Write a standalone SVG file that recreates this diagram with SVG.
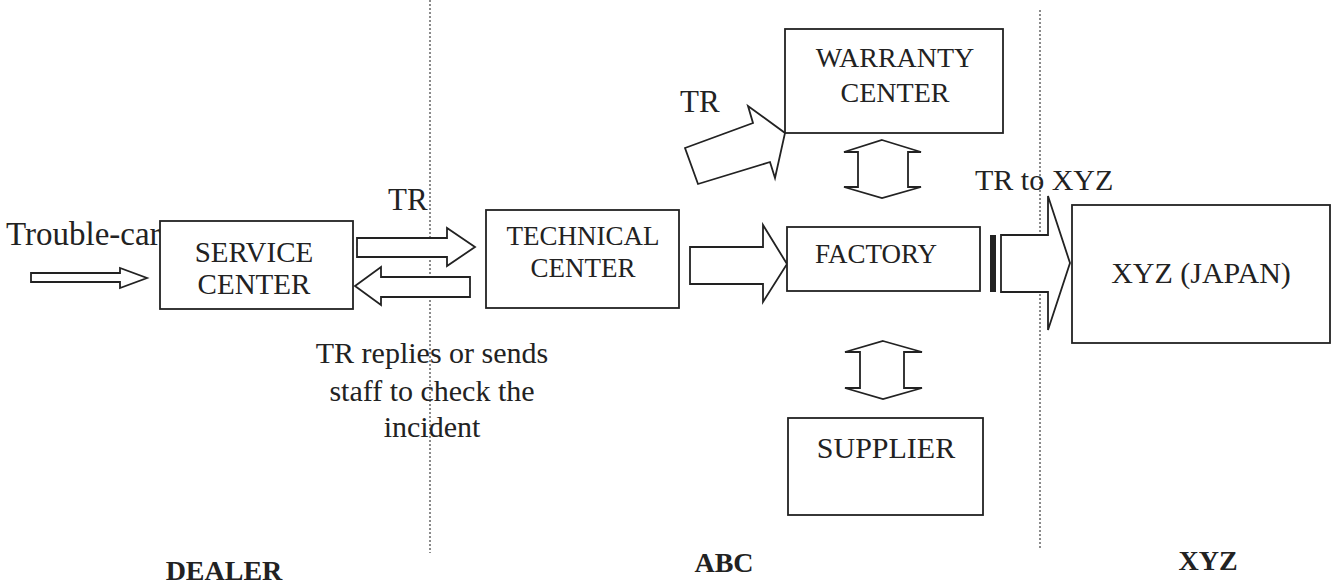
<svg xmlns="http://www.w3.org/2000/svg" width="1335" height="584" viewBox="0 0 1335 584">
<style>
text{font-family:"Liberation Serif","Times New Roman",serif;fill:#222}
.box{fill:#fff;stroke:#222;stroke-width:1.8}
.arr{fill:#fff;stroke:#222;stroke-width:1.8;stroke-linejoin:miter}
.div{stroke:#666;stroke-width:1.5;stroke-dasharray:2 2;fill:none}
.lab{font-weight:bold;font-size:28px}
</style>
<rect width="1335" height="584" fill="#fff"/>
<g id="dividers">
<line class="div" x1="430" y1="0" x2="430" y2="553"/>
<line class="div" x1="1040" y1="10" x2="1040" y2="549"/>
</g>
<text x="6" y="245" font-size="33">Trouble-car</text>
<text x="388" y="210" font-size="31">TR</text>
<text x="680" y="112" font-size="31">TR</text>
<text x="975" y="190" font-size="30">TR to XYZ</text>
<text x="432" y="363" font-size="30" text-anchor="middle">TR replies or sends</text>
<text x="432" y="401" font-size="30" text-anchor="middle">staff to check the</text>
<text x="432" y="437" font-size="30" text-anchor="middle">incident</text>
<g id="connectors">
<polygon class="arr" points="31,273 120,273 120,268 147,278 120,288 120,282 31,282"/>
<polygon class="arr" points="357,238 447,238 447,228 475,247 447,266 447,257 357,257"/>
<polygon class="arr" points="470,277 381,277 381,267 355,286 381,305 381,297 470,297"/>
<polygon class="arr" points="690,247 763,247 763,225 787,264 763,302 763,284 690,284"/>
<polygon class="arr" points="685,148 753,123 748,106 785,133 775,178 770,162 698,184"/>
<polygon class="arr" points="882,140 921,152 908,152 908,187 921,187 882,198 844,187 858,187 858,152 844,152"/>
<polygon class="arr" points="883,341 922,352 904,352 904,388 922,388 883,399 845,388 860,388 860,352 845,352"/>
<rect x="990" y="235" width="6" height="57" fill="#222"/>
<polygon class="arr" points="1001,235 1048,235 1048,196 1070,263 1048,330 1048,292 1001,292"/>
</g>
<g id="service-center">
<rect class="box" x="160" y="221" width="193" height="88"/>
<text x="254" y="262" font-size="29" text-anchor="middle">SERVICE</text>
<text x="254" y="294" font-size="29" text-anchor="middle">CENTER</text>
</g>
<g id="technical-center">
<rect class="box" x="486" y="210" width="193" height="98"/>
<text x="583" y="245" font-size="27" text-anchor="middle">TECHNICAL</text>
<text x="583" y="277" font-size="27" text-anchor="middle">CENTER</text>
</g>
<g id="factory">
<rect class="box" x="787" y="227" width="193" height="64"/>
<text x="876" y="263" font-size="27" text-anchor="middle">FACTORY</text>
</g>
<g id="warranty-center">
<rect class="box" x="785" y="29" width="218" height="104"/>
<text x="895" y="67" font-size="28" text-anchor="middle">WARRANTY</text>
<text x="895" y="102" font-size="28" text-anchor="middle">CENTER</text>
</g>
<g id="supplier">
<rect class="box" x="788" y="418" width="195" height="97"/>
<text x="886" y="458" font-size="30" text-anchor="middle">SUPPLIER</text>
</g>
<g id="xyz-japan">
<rect class="box" x="1072" y="205" width="258" height="138"/>
<text x="1201" y="283" font-size="30" text-anchor="middle">XYZ (JAPAN)</text>
</g>
<text class="lab" x="224" y="580" text-anchor="middle">DEALER</text>
<text class="lab" x="724" y="572" text-anchor="middle">ABC</text>
<text class="lab" x="1208" y="570" text-anchor="middle">XYZ</text>
</svg>
